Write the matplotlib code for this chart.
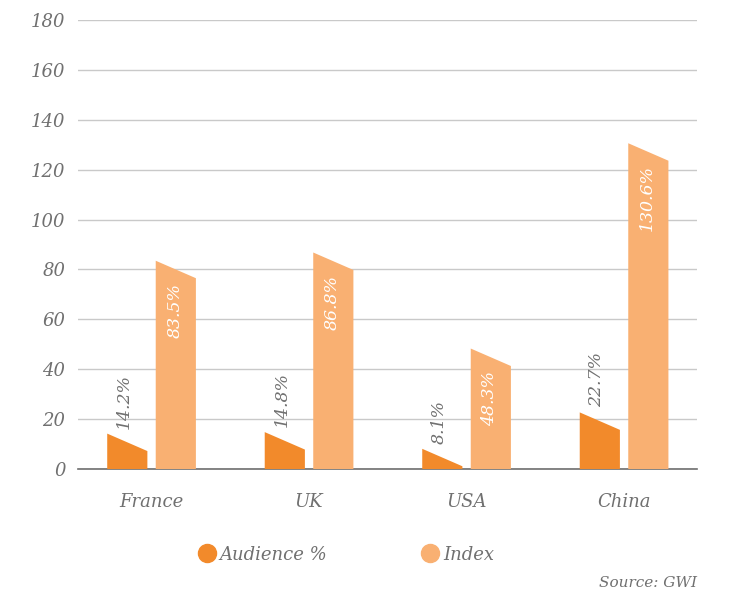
import matplotlib.pyplot as plt
from matplotlib.lines import Line2D
import numpy as np

countries = ['France', 'UK', 'USA', 'China']
audience = [14.2, 14.8, 8.1, 22.7]
index = [83.5, 86.8, 48.3, 130.6]

dark = '#f28a2b'
light = '#f9b072'
grey = '#707070'
font = 'DejaVu Serif'

fig = plt.figure(figsize=(7.31, 5.94), dpi=100)
ax = fig.add_axes([0.1067, 0.2104, 0.8468, 0.7559])

width = 0.255
offset = 0.154
drop = 7  # slanted top: right edge sits lower than the left

def slanted_bar(x, h, color):
    left, right = x - width / 2, x + width / 2
    ax.fill([left, left, right, right], [0, h, max(h - drop, 0), 0],
            color=color, lw=0, zorder=3)

x = np.arange(len(countries))
for i in range(len(countries)):
    slanted_bar(x[i] - offset, audience[i], dark)
    slanted_bar(x[i] + offset, index[i], light)
    ax.annotate(f'{audience[i]}%', (x[i] - offset, audience[i]),
                xytext=(-3, 5), textcoords='offset pixels',
                rotation=90, ha='center', va='bottom', color=grey,
                fontsize=12.5, family=font, style='italic', zorder=4)
    ax.annotate(f'{index[i]}%', (x[i] + offset, index[i]),
                xytext=(-1, -22), textcoords='offset pixels',
                rotation=90, ha='center', va='top', color='white',
                fontsize=12.5, family=font, style='italic', zorder=4)

ax.set_xlim(-0.467, 3.463)
ax.set_ylim(0, 180)
ax.set_yticks(np.arange(0, 181, 20))
ax.set_xticks(x)
ax.set_xticklabels(countries)
ax.yaxis.grid(True, color='#c9c9c9', lw=1)
ax.set_axisbelow(True)
for s in ['left', 'right', 'top']:
    ax.spines[s].set_visible(False)
ax.spines['bottom'].set_color('#6e6e6e')
ax.spines['bottom'].set_linewidth(1.2)
ax.tick_params(length=0, labelsize=13, colors=grey)
ax.tick_params(axis='y', pad=9)
ax.tick_params(axis='x', pad=17)
for lab in ax.get_xticklabels() + ax.get_yticklabels():
    lab.set_family(font)
    lab.set_style('italic')

handles = [Line2D([], [], marker='o', ls='', color=dark, markersize=13),
           Line2D([], [], marker='o', ls='', color=light, markersize=13)]
fig.legend(handles, ['Audience %', 'Index'], loc='center left',
           bbox_to_anchor=(0.246, 0.066), ncol=2, frameon=False,
           handletextpad=0.1, columnspacing=5.1, handlelength=1.2,
           prop={'family': font, 'style': 'italic', 'size': 13},
           labelcolor=grey)

fig.text(0.953, 0.006, 'Source: GWI', ha='right', va='bottom', color=grey,
         fontsize=11, family=font, style='italic')

plt.savefig('out.png', dpi=100)
